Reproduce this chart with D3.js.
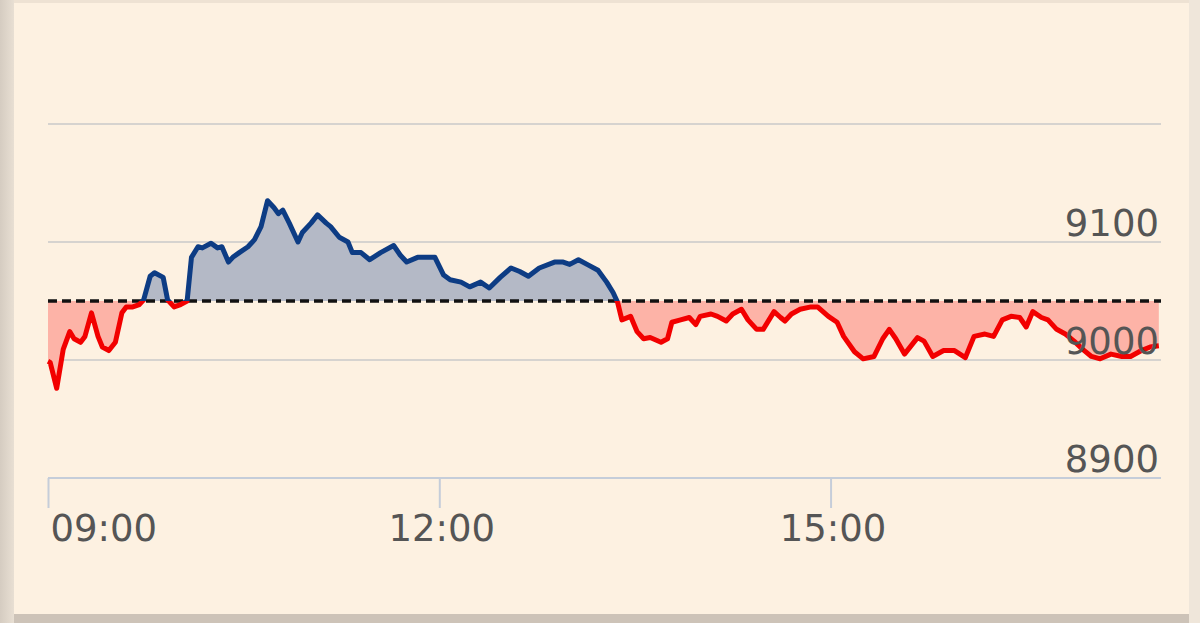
<!DOCTYPE html>
<html>
<head>
<meta charset="utf-8">
<script src="https://cdn.jsdelivr.net/npm/d3@7"></script>
<style>
  html, body { margin: 0; padding: 0; background: #e4dacd; }
  svg { display: block; }
</style>
</head>
<body>
<div id="chart"></div>
<script>
// intraday index, previous close as baseline
var times = ["09:00","09:01","09:04","09:07","09:10","09:12","09:15","09:17","09:20","09:23","09:25","09:28",
  "09:31","09:34","09:36","09:39","09:42","09:44","09:47","09:49","09:53","09:55","09:58","10:01","10:04",
  "10:06","10:09","10:11","10:15","10:18","10:20","10:23","10:25","10:28","10:32","10:35","10:38","10:41",
  "10:44","10:46","10:48","10:51","10:55","10:57","11:01","11:04","11:08","11:10","11:14","11:18","11:20",
  "11:24","11:28","11:33","11:39","11:42","11:45","11:50","11:54","11:58","12:02","12:05","12:10","12:14",
  "12:19","12:23","12:28","12:33","12:37","12:41","12:46","12:53","12:57","13:00","13:04","13:08","13:13",
  "13:17","13:20","13:22","13:24","13:28","13:31","13:34","13:37","13:42","13:45","13:47","13:51","13:55",
  "13:58","14:00","14:05","14:08","14:12","14:15","14:19","14:22","14:26","14:29","14:34","14:37","14:39",
  "14:42","14:46","14:51","14:54","14:59","15:03","15:06","15:11","15:15","15:20","15:24","15:27","15:30",
  "15:34","15:40","15:43","15:47","15:52","15:57","16:02","16:06","16:11","16:15","16:19","16:23","16:27",
  "16:30","16:33","16:37","16:40","16:44","16:48","16:52","16:56","17:00","17:04","17:09","17:14","17:18",
  "17:23","17:27","17:31"];
var values = [8999,8998,8976,9009,9024,9018,9015,9020,9040,9020,9011,9008,
  9015,9040,9045,9045,9047,9051,9071,9074,9070,9051,9045,9047,9050,
  9087,9096,9095,9099,9095,9096,9083,9087,9091,9096,9102,9113,9135,
  9129,9124,9127,9116,9100,9108,9116,9123,9116,9113,9104,9100,9091,
  9091,9085,9091,9097,9089,9083,9087,9087,9087,9072,9068,9066,9062,
  9066,9061,9070,9078,9075,9071,9078,9083,9083,9081,9085,9081,9076,
  9066,9057,9049,9034,9037,9024,9018,9019,9015,9018,9032,9034,9036,
  9030,9037,9039,9037,9033,9039,9043,9034,9026,9026,9041,9036,9033,
  9039,9043,9045,9045,9037,9032,9020,9007,9001,9003,9018,9026,9018,
  9005,9019,9016,9003,9008,9008,9002,9020,9022,9020,9034,9037,9036,
  9028,9041,9036,9034,9026,9022,9016,9009,9003,9001,9005,9003,9003,
  9008,9011,9012];
var prevClose = 9050;
var yTicks = [8900, 9000, 9100, 9200];
var yLabels = ["8900", "9000", "9100", ""];
var xTicks = ["09:00", "12:00", "15:00"];
var xStart = "09:00", xEnd = "17:32";

(function() {
var W = 1200, H = 623;
var mLeft = 48, mRight = 1161, mTop = 124, mBottom = 478;

var parseTime = d3.timeParse("%H:%M");
var data = times.map(function(t, i) { return { t: parseTime(t), v: values[i] }; });

var x = d3.scaleTime().domain([parseTime(xStart), parseTime(xEnd)]).range([mLeft, mRight]);
var y = d3.scaleLinear().domain([8900, 9200]).range([mBottom, mTop]);

var svg = d3.select("#chart").append("svg")
    .attr("width", W)
    .attr("height", H)
    .style("font-family", "'DejaVu Sans', Verdana, sans-serif");

// panel frame
var defs = svg.append("defs");
var shade = defs.append("linearGradient").attr("id", "leftShade");
shade.append("stop").attr("offset", "0%").attr("stop-color", "#d5ccc1");
shade.append("stop").attr("offset", "100%").attr("stop-color", "#e8dfd3");
svg.append("rect").attr("x", 0).attr("y", 0).attr("width", 14).attr("height", H).attr("fill", "url(#leftShade)");
svg.append("rect").attr("x", 14).attr("y", 0).attr("width", W - 14).attr("height", 3).attr("fill", "#eee2d3");
svg.append("rect").attr("x", 14).attr("y", 614).attr("width", W - 14).attr("height", 9).attr("fill", "#cdc3b8");
svg.append("rect").attr("x", 1189).attr("y", 0).attr("width", 11).attr("height", H).attr("fill", "#efe6da");
svg.append("rect").attr("x", 14).attr("y", 3).attr("width", 1175).attr("height", 611).attr("fill", "#fdf1e1");

// gridlines
svg.append("g").selectAll("line")
  .data(yTicks)
  .join("line")
    .attr("x1", mLeft).attr("x2", mRight)
    .attr("y1", function(d) { return y(d); })
    .attr("y2", function(d) { return y(d); })
    .attr("stroke", function(d, i) { return i === 0 ? "#c5cdd9" : "#d6d3cf"; })
    .attr("stroke-width", 2);

// x axis ticks and labels
var xAxis = svg.append("g")
    .attr("transform", "translate(0," + mBottom + ")")
    .call(d3.axisBottom(x)
      .tickValues(xTicks.map(parseTime))
      .tickSize(30)
      .tickSizeOuter(0)
      .tickFormat(d3.timeFormat("%H:%M")));
xAxis.select(".domain").remove();
xAxis.selectAll(".tick line").attr("stroke", "#c5cdd9").attr("stroke-width", 2);
xAxis.selectAll(".tick text")
    .attr("y", 37)
    .attr("dx", 2)
    .attr("fill", "#555")
    .style("font-size", "37px")
    .style("font-family", "'DejaVu Sans', Verdana, sans-serif")
    .attr("text-anchor", function(d, i) { return i === 0 ? "start" : "middle"; });

// areas and line split at previous close
var base = y(prevClose);
defs.append("clipPath").attr("id", "above")
  .append("rect").attr("x", 0).attr("y", 0).attr("width", W).attr("height", base);
defs.append("clipPath").attr("id", "below")
  .append("rect").attr("x", 0).attr("y", base).attr("width", W).attr("height", H - base);

var area = d3.area()
    .x(function(d) { return x(d.t); })
    .y0(base)
    .y1(function(d) { return y(d.v); });
var line = d3.line()
    .x(function(d) { return x(d.t); })
    .y(function(d) { return y(d.v); });

svg.append("path").datum(data).attr("d", area)
    .attr("fill", "#b4b9c6").attr("clip-path", "url(#above)");
svg.append("path").datum(data).attr("d", area)
    .attr("fill", "#fdb3a7").attr("clip-path", "url(#below)");

// previous close dashed line
svg.append("line")
    .attr("x1", mLeft).attr("x2", mRight)
    .attr("y1", base).attr("y2", base)
    .attr("stroke", "#111")
    .attr("stroke-width", 3.5)
    .attr("stroke-dasharray", "9,5");

svg.append("path").datum(data).attr("d", line)
    .attr("fill", "none").attr("stroke", "#0d3c84").attr("stroke-width", 5)
    .attr("stroke-linejoin", "round").attr("clip-path", "url(#above)");
svg.append("path").datum(data).attr("d", line)
    .attr("fill", "none").attr("stroke", "#f20000").attr("stroke-width", 5)
    .attr("stroke-linejoin", "round").attr("clip-path", "url(#below)");

// y labels on the right, above their gridline
svg.append("g").selectAll("text")
  .data(yTicks)
  .join("text")
    .attr("x", mRight - 2)
    .attr("y", function(d) { return y(d) - 6; })
    .attr("text-anchor", "end")
    .attr("fill", "#555")
    .style("font-size", "37px")
    .text(function(d, i) { return yLabels[i]; });
})();
</script>
</body>
</html>
